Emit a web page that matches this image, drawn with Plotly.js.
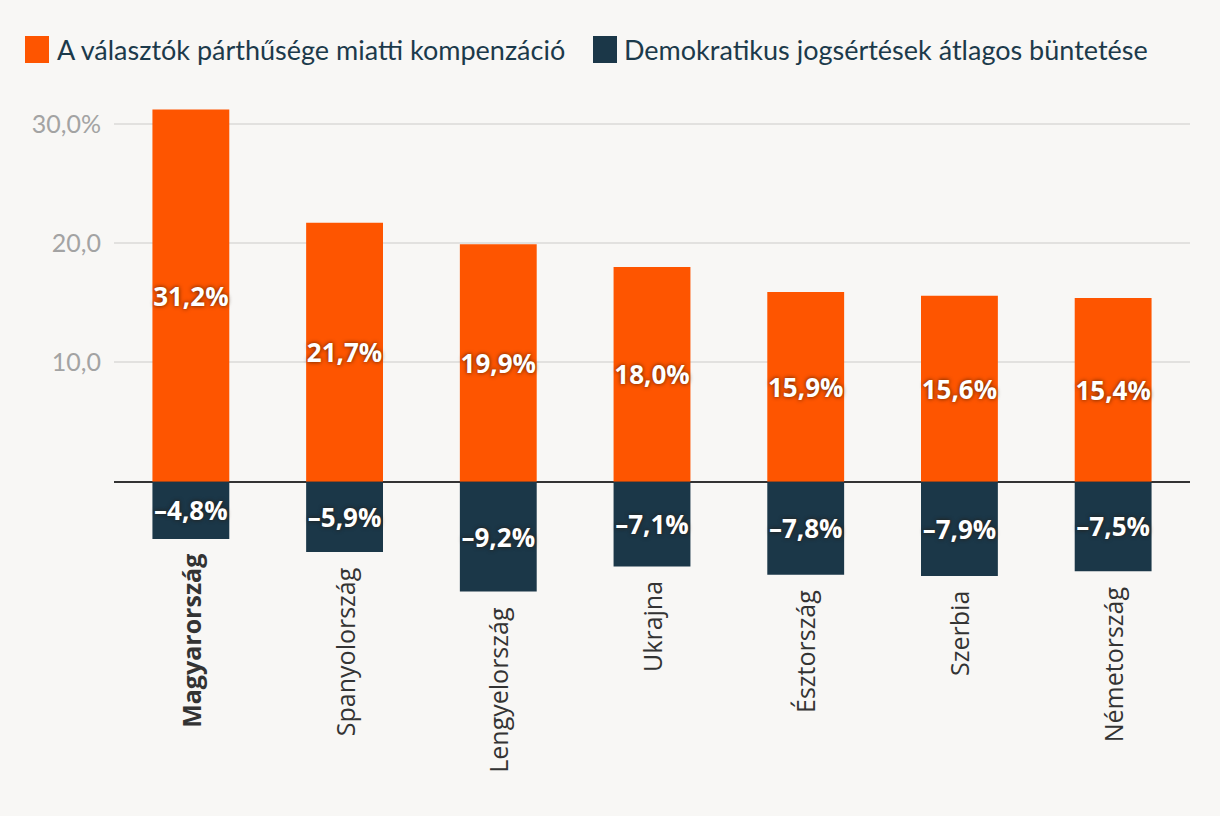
<!DOCTYPE html>
<html>
<head>
<meta charset="utf-8">
<script src="https://cdn.plot.ly/plotly-3.0.1.min.js"></script>
<style>
html,body{margin:0;padding:0;background:#f8f7f5;}
#chart{width:1220px;height:816px;}
</style>
</head>
<body>
<div id="chart"></div>
<script>
const categories = ["Magyarország","Spanyolország","Lengyelország","Ukrajna","Észtország","Szerbia","Németország"];
const compensation = [31.2, 21.7, 19.9, 18.0, 15.9, 15.6, 15.4];
const penalty = [-4.8, -5.9, -9.2, -7.1, -7.8, -7.9, -7.5];
const seriesNames = ["A választók párthűsége miatti kompenzáció","Demokratikus jogsértések átlagos büntetése"];
const yTickVals = [10, 20, 30];
const yTickText = ["10,0", "20,0", "30,0%"];

const ORANGE = "#fe5500";
const NAVY = "#1b3748";

function fmt(v){
  const s = Math.abs(v).toFixed(1).replace(".", ",") + "%";
  return (v < 0 ? "\u2013" : "") + s;
}

const labelFont = {family:"Open Sans", size:26, color:"#ffffff", weight:700, shadow:"0px 0px 4px rgba(40,20,0,0.8)"};

const traces = [
  {type:"bar", name:seriesNames[0], x:categories, y:compensation, marker:{color:ORANGE},
   text:compensation.map(fmt), textposition:"inside", insidetextanchor:"middle", textangle:0,
   constraintext:"none", textfont:labelFont, width:0.5, hoverinfo:"x+y", showlegend:false},
  {type:"bar", name:seriesNames[1], x:categories, y:penalty, marker:{color:NAVY},
   text:penalty.map(fmt), textposition:"inside", insidetextanchor:"middle", textangle:0,
   constraintext:"none", textfont:labelFont, width:0.5, hoverinfo:"x+y", showlegend:false}
];

const annotations = categories.map((c, i) => ({
  x: c, y: penalty[i], xref:"x", yref:"y", showarrow:false,
  text: i === 0 ? "<b>" + c + "</b>" : c,
  textangle:-90, xanchor:"center", yanchor:"top", yshift:-13,
  font:{family:"Open Sans", size:25, color:"#333333"}
}));

// custom legend (large square swatches)
const legendItems = [
  {x0:25, x1:49, tx:55, color:ORANGE, text:seriesNames[0]},
  {x0:593, x1:617, tx:622, color:NAVY, text:seriesNames[1]}
];
const shapes = [];
legendItems.forEach(it => {
  shapes.push({type:"rect", xref:"paper", yref:"paper", xsizemode:"pixel", ysizemode:"pixel",
    xanchor:0, yanchor:1, x0:it.x0-114, x1:it.x1-114, y0:-(36-100), y1:-(63-100),
    fillcolor:it.color, line:{width:0}});
  annotations.push({xref:"paper", yref:"paper", x:0, y:1, xshift:it.tx-114, yshift:100-49.5,
    xanchor:"left", yanchor:"middle", showarrow:false, text:it.text,
    font:{family:"Lato", size:27, color:"#1c3a4b"}});
});

const layout = {
  width:1220, height:816,
  paper_bgcolor:"#f8f7f5", plot_bgcolor:"#f8f7f5",
  margin:{l:114, r:30, t:100, b:215},
  barmode:"relative",
  bargap:0.5,
  showlegend:false,
  xaxis:{type:"category", showticklabels:false, showgrid:false, zeroline:false, showline:false, ticks:""},
  yaxis:{range:[-10, 32], tickvals:yTickVals, ticktext:yTickText, showgrid:true,
    gridcolor:"#e2e1df", gridwidth:2, zeroline:true, zerolinecolor:"#333333", zerolinewidth:2,
    showline:false, ticks:"", ticklabelstandoff:12,
    tickfont:{family:"Lato", size:25, color:"#a3a3a3"}, fixedrange:true},
  annotations:annotations,
  shapes:shapes
};

Plotly.newPlot("chart", traces, layout, {displayModeBar:false, staticPlot:true});
</script>
</body>
</html>
